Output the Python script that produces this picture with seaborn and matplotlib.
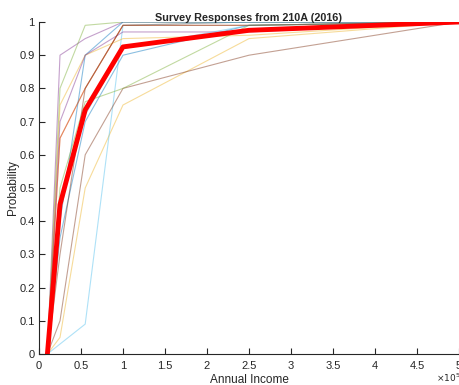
import matplotlib
matplotlib.use('agg')
import matplotlib.pyplot as plt
from matplotlib.ticker import FuncFormatter, MultipleLocator
import numpy as np
import pandas as pd
import seaborn as sns

# income levels asked in the survey (dollars)
income = [10000, 25000, 55000, 100000, 250000, 500000]

# individual responses: cumulative probability at each income level
responses = {
    "r01": [0, 0.35, 0.70, 0.90, 0.99, 1.00],
    "r02": [0, 0.65, 0.80, 0.99, 1.00, 1.00],
    "r03": [0, 0.05, 0.50, 0.75, 0.95, 1.00],
    "r04": [0, 0.90, 0.95, 1.00, 1.00, 1.00],
    "r05": [0, 0.80, 0.99, 1.00, 1.00, 1.00],
    "r06": [0, 0.03, 0.09, 0.99, 1.00, 1.00],
    "r07": [0, 0.10, 0.60, 0.80, 0.90, 1.00],
    "r08": [0, 0.40, 0.90, 1.00, 1.00, 1.00],
    "r09": [0, 0.65, 0.80, 0.99, 0.99, 1.00],
    "r10": [0, 0.75, 0.90, 0.95, 0.96, 1.00],
    "r11": [0, 0.70, 0.90, 0.97, 0.97, 1.00],
    "r12": [0, 0.50, 0.76, 0.80, 0.99, 1.00],
    "r13": [0, 0.45, 0.72, 0.92, 0.99, 1.00],
    "r14": [0, 0.30, 0.80, 0.99, 0.99, 1.00],
}

# class average
average = [0, 0.45, 0.735, 0.925, 0.975, 1.00]

line_colors = ["#0072BD", "#D95319", "#EDB120", "#7E2F8E",
               "#77AC30", "#4DBEEE", "#7A2E10"]

sns.set_style("white")
plt.rcParams["font.family"] = ["Liberation Sans", "DejaVu Sans"]

rows = []
for name, vals in responses.items():
    for x, y in zip(income, vals):
        rows.append((name, x, y))
df = pd.DataFrame(rows, columns=["respondent", "income", "prob"])
avg_df = pd.DataFrame({"income": income, "prob": average})

fig = plt.figure(figsize=(4.6, 3.85), dpi=100)
ax = fig.add_axes([39 / 460, 31 / 385, 420 / 460, 332 / 385])

palette = [line_colors[i % 7] for i in range(len(responses))]
sns.lineplot(data=df, x="income", y="prob", hue="respondent", palette=palette,
             alpha=0.45, linewidth=0.8, legend=False, ax=ax, estimator=None)
sns.lineplot(data=avg_df, x="income", y="prob", color="#FF0000",
             linewidth=3.5, ax=ax, estimator=None)

ax.set_xlim(0, 500000)
ax.set_ylim(0, 1)
ax.xaxis.set_major_locator(MultipleLocator(50000))
ax.yaxis.set_major_locator(MultipleLocator(0.1))
ax.xaxis.set_major_formatter(FuncFormatter(lambda v, p: "%g" % (v / 1e5)))
ax.yaxis.set_major_formatter(FuncFormatter(lambda v, p: "%g" % v))

for s in ["top", "right"]:
    ax.spines[s].set_visible(False)
for s in ["left", "bottom"]:
    ax.spines[s].set_color("#262626")
    ax.spines[s].set_linewidth(0.8)

ax.tick_params(direction="in", length=4, width=0.8, colors="#262626",
               labelsize=8, pad=3, left=True, bottom=True)
ax.tick_params(axis="x", pad=5)
ax.set_xlabel("Annual Income", fontsize=8.5, color="#262626", labelpad=2.5)
ax.set_ylabel("Probability", fontsize=8.5, color="#262626", labelpad=0.5)
ax.set_title("Survey Responses from 210A (2016)", fontsize=7.8,
             fontweight="bold", pad=1)

fig.text(436 / 460, 1 / 385, r"$\times10^5$", fontsize=6.5, color="#262626",
         ha="left", va="bottom")

fig.savefig("out.png", dpi=100)
